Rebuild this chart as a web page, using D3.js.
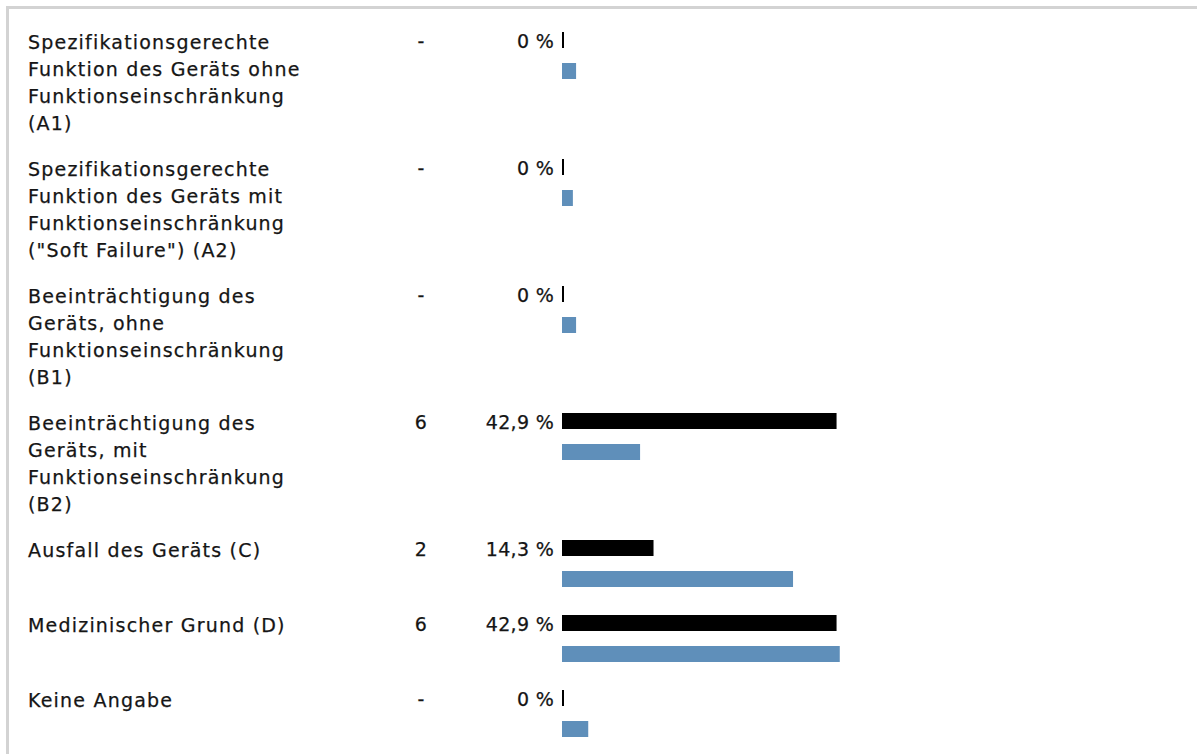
<!DOCTYPE html>
<html>
<head>
<meta charset="utf-8">
<script src="https://cdn.jsdelivr.net/npm/d3@7"></script>
<style>
  body { margin: 0; background: #fff; }
  text { font-family: "DejaVu Sans", sans-serif; font-size: 19px; letter-spacing: 0.9px; fill: #151515; stroke: #151515; stroke-width: 0.25px; }
  text.label { letter-spacing: 1.2px; }
  text.num { letter-spacing: 0.3px; }
</style>
</head>
<body>
<svg width="1197" height="754"></svg>
<script>
const width = 1197
const height = 754

// labels, one entry per line
const labels = [
    ["Spezifikationsgerechte", "Funktion des Geräts ohne", "Funktionseinschränkung", "(A1)"],
    ["Spezifikationsgerechte", "Funktion des Geräts mit", "Funktionseinschränkung", "(\"Soft Failure\") (A2)"],
    ["Beeinträchtigung des", "Geräts, ohne", "Funktionseinschränkung", "(B1)"],
    ["Beeinträchtigung des", "Geräts, mit", "Funktionseinschränkung", "(B2)"],
    ["Ausfall des Geräts (C)"],
    ["Medizinischer Grund (D)"],
    ["Keine Angabe"]
]
const counts = ["-", "-", "-", "6", "2", "6", "-"]
const pctLabels = ["0 %", "0 %", "0 %", "42,9 %", "14,3 %", "42,9 %", "0 %"]
// black bars (this group) and blue bars (comparison), in percent
const groupValues = [0, 0, 0, 42.9, 14.3, 42.9, 0]
const compareValues = [2.2, 1.7, 2.2, 12.2, 36.1, 43.4, 4.1]

const lineH = 27
const barH = 16
const barGap = 15

let svg = d3.select('svg')

// frame (top + left grey lines)
svg.append('path')
    .attr('d', `M7.5,${height} V7.5 H${width}`)
    .attr('fill', 'none')
    .attr('stroke', '#d3d3d3')
    .attr('stroke-width', 3)

// x scale for bars
const xScale = d3.scaleLinear()
    .domain([0, 50])
    .range([562, 562 + 320])

// row tops
let tops = []
let y = 32
labels.forEach(l => {
    tops.push(y)
    y += Math.max(l.length * lineH, 56) + 19
})

const rows = svg.selectAll('.row')
    .data(labels.map((l, i) => ({lines: l, count: counts[i], pct: pctLabels[i], g: groupValues[i], c: compareValues[i], top: tops[i]})))
    .enter()
    .append('g')
    .attr('class', 'row')
    .attr('transform', d => `translate(0,${d.top})`)

// label lines
rows.append('text')
    .attr('class', 'label')
    .attr('x', 28)
    .attr('y', 17)
    .selectAll('tspan')
    .data(d => d.lines)
    .enter()
    .append('tspan')
    .attr('x', 28)
    .attr('dy', (d, i) => i === 0 ? 0 : lineH)
    .text(d => d)

rows.append('text')
    .attr('class', 'num')
    .attr('x', 421)
    .attr('y', 16)
    .attr('text-anchor', 'middle')
    .text(d => d.count)

rows.append('text')
    .attr('class', 'num')
    .attr('x', 554)
    .attr('y', 16)
    .attr('text-anchor', 'end')
    .text(d => d.pct)

// black bars
rows.append('rect')
    .attr('x', xScale(0))
    .attr('y', 0)
    .attr('height', barH)
    .attr('width', d => Math.max(xScale(d.g) - xScale(0), 2))
    .attr('fill', '#000')

// blue bars
rows.append('rect')
    .attr('x', xScale(0))
    .attr('y', barH + barGap)
    .attr('height', barH)
    .attr('width', d => xScale(d.c) - xScale(0))
    .attr('fill', '#5f8fba')
</script>
</body>
</html>
